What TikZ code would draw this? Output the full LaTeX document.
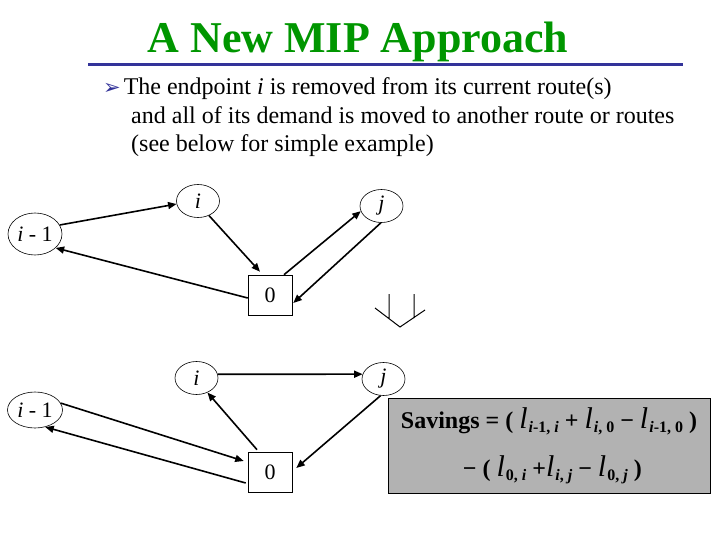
\documentclass[tikz,border=0pt]{standalone}
\usepackage{fontspec}
\setmainfont{Liberation Serif}
\newfontfamily\symfont{DejaVu Sans}
\usetikzlibrary{positioning,arrows.meta,shapes.geometric}
\definecolor{titlegreen}{RGB}{0,150,0}
\definecolor{ruleblue}{RGB}{51,51,153}
\definecolor{boxgray}{RGB}{178,178,178}
\newcommand\lterm[1]{{\fontsize{30}{30}\selectfont\mdseries\itshape l}\kern1pt\raisebox{-4pt}{\fontsize{16}{16}\selectfont #1}}

\begin{document}
\begin{tikzpicture}[
  x=1pt, y=-1pt,
  vertex/.style={draw, ellipse, line width=0.6pt, inner sep=0pt, minimum width=43pt, minimum height=33pt, font=\fontsize{22}{22}\selectfont},
  depot/.style={draw, rectangle, line width=0.6pt, inner sep=0pt, minimum width=44pt, minimum height=40pt, font=\fontsize{22}{22}\selectfont},
  arrow/.style={-{Triangle[length=8.5pt,width=7pt]}, line width=1.6pt},
  savings/.style={draw, fill=boxgray, line width=0.6pt, minimum width=322pt, minimum height=95pt, align=left, font=\bfseries\fontsize{24}{24}\selectfont}
]
\useasboundingbox (0,0) rectangle (720,540);
% titulo e texto
\node[anchor=base, text=titlegreen, font=\bfseries\fontsize{44}{44}\selectfont] (title) at (358,53) {A New MIP Approach};
\draw[ruleblue, line width=3pt] (88,65) -- (683,65);
\node[anchor=base west, align=left, inner sep=0pt, font=\fontsize{24}{28.5}\selectfont] (intro) at (103,152)
  {{\symfont\fontsize{21}{21}\selectfont\color{ruleblue}➢}\kern3pt The endpoint \textit{i} is removed from its current route(s)\\
   \hspace*{28pt}and all of its demand is moved to another route or routes\\
   \hspace*{28pt}(see below for simple example)};
% rota antes
\node[vertex, minimum width=54pt, minimum height=42pt] (a1) at (35,234) {\textit{i} - 1};
\node[vertex] (a2) at (198,201) {\textit{i}};
\node[vertex] (a3) at (381.5,206) {\textit{j}};
\node[depot] (a0) at (270,295) {0};
\draw[arrow] (a1.20) -- (a2.188);
\draw[arrow] (a2.-53) -- ([xshift=-10pt,yshift=3pt]a0.north);
\draw[arrow] ([xshift=14pt]a0.north) -- (a3.194);
\draw[arrow] (a3.-92) -- ([xshift=1pt,yshift=-8pt]a0.east);
\draw[arrow] ([yshift=-3pt]a0.west) -- (a1.-34);
% seta para baixo
\draw[line width=1pt] (389,294) -- (389,318) (414,294) -- (414,318) (375,308) -- (400,327) -- (425,310);
% rota depois
\node[vertex, minimum width=55pt, minimum height=36pt] (b1) at (35,410) {\textit{i} - 1};
\node[vertex] (b2) at (196.5,378) {\textit{i}};
\node[vertex] (b3) at (383.5,379) {\textit{j}};
\node[depot] (b0) at (270,472) {0};
\draw[arrow] (b2.10) -- (b3.167);
\draw[arrow] (b3.-100) -- ([xshift=4pt,yshift=4pt]b0.east);
\draw[arrow] ([xshift=-13pt,yshift=2pt]b0.north) -- (b2.-53);
\draw[arrow] (b1.15) -- ([xshift=-4pt,yshift=11pt]b0.west);
\draw[arrow] ([xshift=-2pt,yshift=-11pt]b0.west) -- (b1.-59);
% ganho
\node[savings] (sav) at (549,445.5)
  {Savings = ( \lterm{\textit{i}-1, \textit{i}} + \lterm{\textit{i}, 0} − \lterm{\textit{i}-1, 0} )\\[20pt]
   \hspace*{62pt}− ( \lterm{0, \textit{i}} +\lterm{\textit{i}, \textit{j}} − \lterm{0, \textit{j}} )};
\end{tikzpicture}
\end{document}
